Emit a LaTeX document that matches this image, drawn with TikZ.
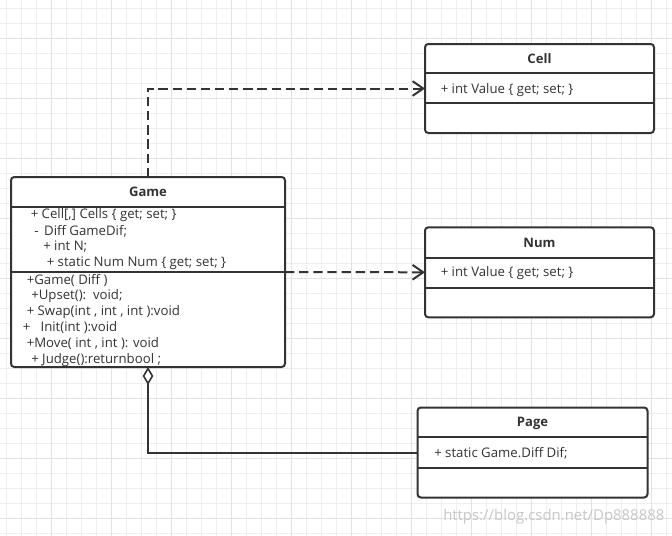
\documentclass[tikz,border=0pt]{standalone}
\usepackage{fontspec}
\setmainfont{Open Sans}
\usetikzlibrary{arrows.meta}
\definecolor{linec}{HTML}{333333}
\definecolor{minorg}{HTML}{EEEEEE}
\definecolor{majorg}{HTML}{E2E2E2}
\tikzset{
  umlbox/.style={draw=linec, line width=1.5pt, rounded corners=2.5pt, fill=white, inner sep=0pt, outer sep=0pt},
  hdr/.style={font=\bfseries\fontsize{9.8}{11}\selectfont, text=linec, inner sep=0pt},
  attr/.style={font=\fontsize{9.9}{11}\selectfont, text=linec, anchor=west, inner sep=0pt},
  sepline/.style={draw=linec, line width=1.5pt},
  dep/.style={draw=linec, line width=1.5pt, dash pattern=on 7pt off 3.6pt, -{Straight Barb[length=8pt, width=11pt, line width=1.5pt]}},
  agg/.style={draw=linec, line width=1.5pt, {Diamond[open, fill=white, length=13.5pt, width=8pt, line width=1.2pt]}-},
}
\begin{document}
\begin{tikzpicture}[x=0.75pt, y=-0.75pt]
\useasboundingbox (0,0) rectangle (672,536);
\fill[white] (0,0) rectangle (672,536);
% grid
\foreach \i in {0,...,44} {
  \draw[minorg, line width=0.75pt] ({6.7+15*\i},0) -- ({6.7+15*\i},536);
}
\foreach \i in {0,...,35} {
  \draw[minorg, line width=0.75pt] (0,{8.3+15*\i}) -- (672,{8.3+15*\i});
}
\foreach \i in {0,...,11} {
  \draw[majorg, line width=0.75pt] ({51.7+60*\i},0) -- ({51.7+60*\i},536);
}
\foreach \i in {0,...,8} {
  \draw[majorg, line width=0.75pt] (0,{38.3+60*\i}) -- (672,{38.3+60*\i});
}

% boxes
\node[umlbox, minimum width=274*0.75pt, minimum height=190*0.75pt] (game) at (148,272) {};
\node[umlbox, minimum width=229*0.75pt, minimum height=89*0.75pt] (cell) at (539.5,88.5) {};
\node[umlbox, minimum width=229*0.75pt, minimum height=90*0.75pt] (num) at (539.5,272.3) {};
\node[umlbox, minimum width=230*0.75pt, minimum height=90*0.75pt] (page) at (532.5,452.5) {};

% Game
\draw[sepline] (game.west |- 0,206.7) -- (game.east |- 0,206.7);
\draw[sepline] (game.west |- 0,271.7) -- (game.east |- 0,271.7);
\node[hdr] (gamet) at (148,192) {Game};
\node[attr] (ga1) at (30.5,215) {+ Cell[,] Cells \{ get; set; \}};
\node[attr] (ga2) at (34,231) {-\, Diff GameDif;};
\node[attr] (ga3) at (43,247) {+ int N;};
\node[attr] (ga4) at (46.5,263) {+ static Num Num \{ get; set; \}};
\node[attr] (gm1) at (26.5,280) {+Game( Diff )};
\node[attr] (gm2) at (31,296) {+Upset():\ \ void;};
\node[attr] (gm3) at (26.5,312) {+ Swap(int , int , int ):void};
\node[attr] (gm4) at (22.5,328) {+\ \ \ Init(int ):void};
\node[attr] (gm5) at (26.5,344) {+Move( int , int ): void};
\node[attr] (gm6) at (31,360) {+ Judge():returnbool ;};

% Cell
\draw[sepline] (cell.west |- 0,73.3) -- (cell.east |- 0,73.3);
\draw[sepline] (cell.west |- 0,103.3) -- (cell.east |- 0,103.3);
\node[hdr] (cellt) at (539.5,59) {Cell};
\node[attr] (ca1) at (440.5,90) {+ int Value \{ get; set; \}};

% Num
\draw[sepline] (num.west |- 0,257.7) -- (num.east |- 0,257.7);
\draw[sepline] (num.west |- 0,287.7) -- (num.east |- 0,287.7);
\node[hdr] (numt) at (539.5,242.5) {Num};
\node[attr] (na1) at (440.5,272.7) {+ int Value \{ get; set; \}};

% Page
\draw[sepline] (page.west |- 0,437.3) -- (page.east |- 0,437.3);
\draw[sepline] (page.west |- 0,467.7) -- (page.east |- 0,467.7);
\node[hdr] (paget) at (532.5,423.3) {Page};
\node[attr] (pa1) at (434,453.3) {+ static Game.Diff Dif;};

% connectors
\draw[dep] (game.north) |- (cell.west);
\draw[dep] (game.east) -- (num.west);
\draw[agg] (game.south) |- (page.west);

% watermark
\node[font=\fontsize{11.2}{13}\selectfont, text=black!22, anchor=west, inner sep=0pt] (wm) at (443,516.7) {https://blog.csdn.net/Dp888888};
\end{tikzpicture}
\end{document}
